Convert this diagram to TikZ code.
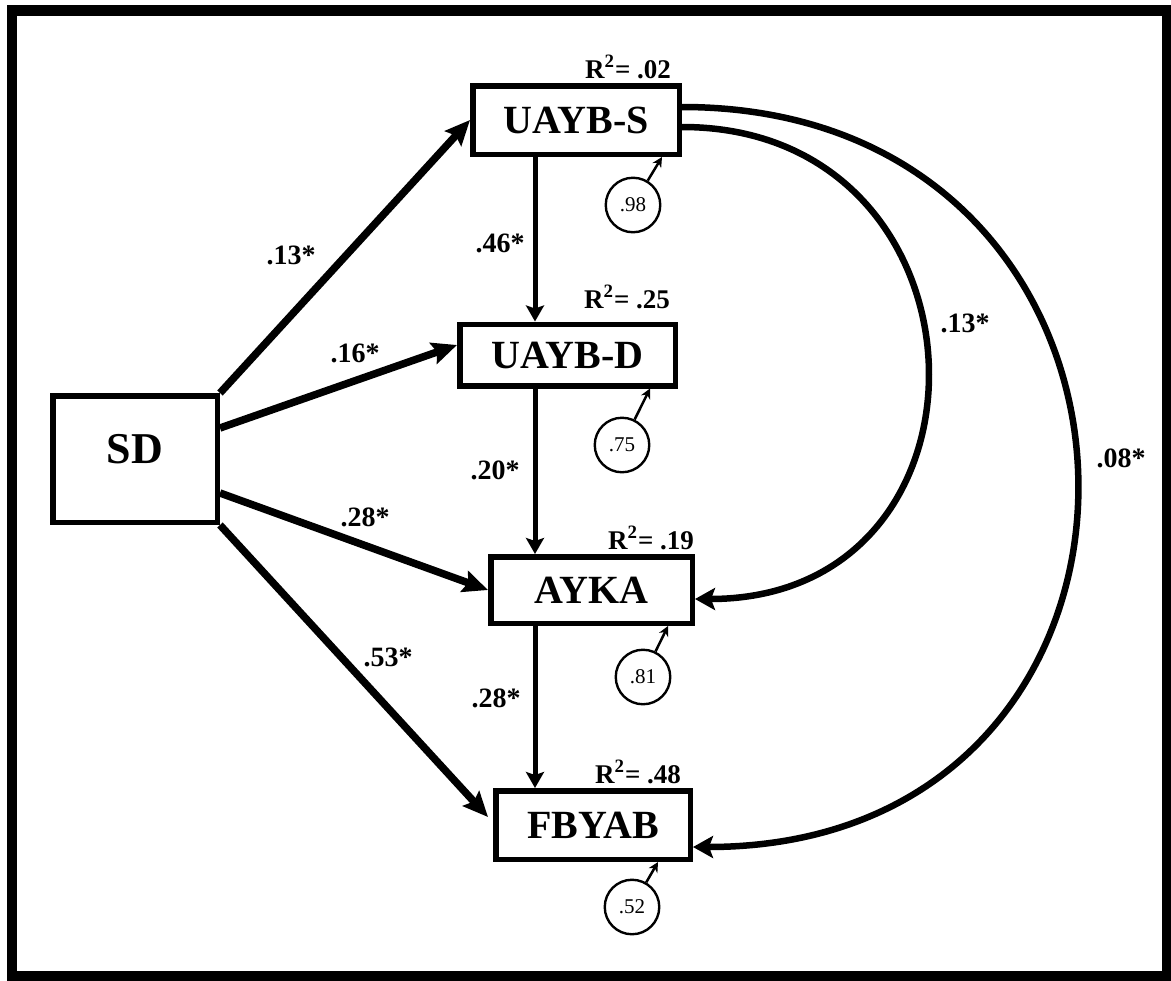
\documentclass[tikz,border=0pt]{standalone}
\usepackage{fontspec}
\setmainfont{Liberation Serif}
\usetikzlibrary{arrows.meta}
\usetikzlibrary{calc}

\begin{document}
\begin{tikzpicture}[x=0.5pt,y=-0.5pt,node distance=117.5pt,
	var node/.style={rectangle,draw,line width=2.75pt,inner sep=0pt,font=\bfseries\fontsize{20}{24}\selectfont},
	err node/.style={circle,draw,line width=1.2pt,inner sep=0pt,minimum size=27.25pt,font=\fontsize{10.5}{12}\selectfont},
	rsq/.style={inner sep=0pt,font=\bfseries\fontsize{13.5}{16}\selectfont},
	coef/.style={inner sep=0pt,font=\bfseries\fontsize{14}{17}\selectfont},
	main path/.style={-{Stealth[length=12.5pt,width=11pt,inset=2pt]},line width=3.75pt},
	down path/.style={-{Stealth[length=8pt,width=9pt,inset=1.5pt]},line width=2.5pt},
	curve path/.style={-{Stealth[length=10pt,width=11pt,inset=2pt]},line width=3.25pt},
	err path/.style={-{Stealth[length=5pt,width=5pt]},line width=1.25pt}]

	\useasboundingbox (0,0) rectangle (1171,980);
	\draw[line width=5.25pt] (12,10.5) rectangle (1167,976.5);

	\node[var node,minimum width=82.25pt,minimum height=63.25pt,font=\bfseries\fontsize{22}{26}\selectfont,text height=15.5pt,text depth=11pt] (SD) at (135,459) {SD};
	\node[var node,minimum width=103.25pt,minimum height=34.25pt] (UAYBS) at (576,120) {UAYB-S};
	\node[var node,minimum width=107.75pt,minimum height=30.75pt] (UAYBD) [below of=UAYBS,xshift=-4.25pt] {UAYB-D};
	\node[var node,minimum width=100.75pt,minimum height=33.25pt] (AYKA) [below of=UAYBD,xshift=12pt] {AYKA};
	\node[var node,minimum width=97.25pt,minimum height=34.25pt] (FBYAB) [below of=AYKA,xshift=0.75pt] {FBYAB};

	% explained variance
	\node[rsq] (rS) at (628,67) {R\textsuperscript{2}= .02};
	\node[rsq] (rD) at (627,297) {R\textsuperscript{2}= .25};
	\node[rsq] (rA) at (651,538) {R\textsuperscript{2}= .19};
	\node[rsq] (rF) at (638,772) {R\textsuperscript{2}= .48};

	% error terms
	\node[err node] (eS) at (633,205) {.98};
	\node[err node] (eD) at (622,445) {.75};
	\node[err node] (eA) at (643,677) {.81};
	\node[err node] (eF) at (632,907) {.52};

	\coordinate (colx) at (535,0);

	\path
	(SD.north east) edge[main path] (UAYBS.west)
	($(SD.east)+(0,-31)$) edge[main path] ($(UAYBD.west)+(0,-10)$)
	($(SD.east)+(0,34)$) edge[main path] (AYKA.west)
	(SD.south east) edge[main path] ($(FBYAB.west)+(-5,-8)$);

	\path
	(UAYBS.south -| colx) edge[down path] (UAYBD.north -| colx)
	(UAYBD.south -| colx) edge[down path] (AYKA.north -| colx)
	(AYKA.south -| colx) edge[down path] (FBYAB.north -| colx);

	\draw[curve path] ($(UAYBS.east)+(0,7)$) to[out=0,in=0,looseness=1.72] ($(AYKA.east)+(0,9)$);
	\draw[curve path] ($(UAYBS.east)+(0,-13)$) to[out=0,in=0,looseness=1.79] ($(FBYAB.east)+(0,22)$);

	\path
	(eS) edge[err path] ($(UAYBS.south east)+(-20,0)$)
	(eD) edge[err path] ($(UAYBD.south east)+(-28,0)$)
	(eA) edge[err path] ($(AYKA.south east)+(-27,0)$)
	(eF) edge[err path] ($(FBYAB.south east)+(-35,0)$);

	% path coefficients
	\node[coef] (c1) at (291,255) {.13*};
	\node[coef] (c2) at (355,353) {.16*};
	\node[coef] (c3) at (365,517) {.28*};
	\node[coef] (c4) at (388,657) {.53*};
	\node[coef] (c5) at (500,243) {.46*};
	\node[coef] (c6) at (495,470) {.20*};
	\node[coef] (c7) at (496,698) {.28*};
	\node[coef] (c8) at (965,323) {.13*};
	\node[coef] (c9) at (1121,458) {.08*};

\end{tikzpicture}
\end{document}
